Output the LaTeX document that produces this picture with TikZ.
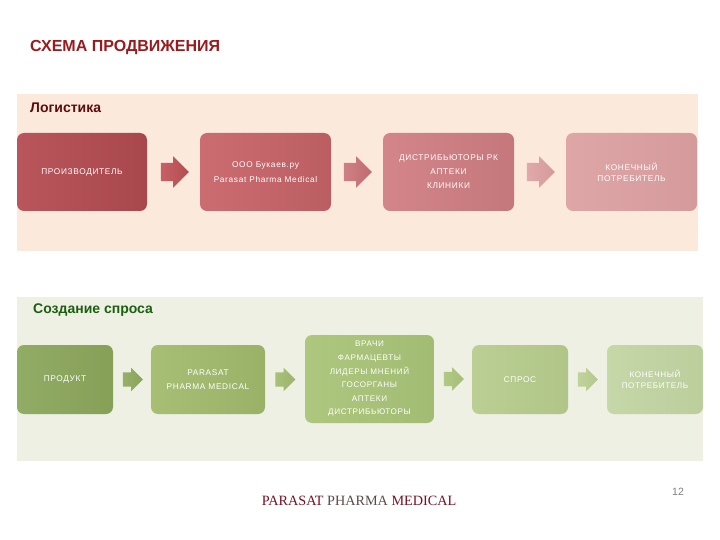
\documentclass[tikz,border=0pt]{standalone}
\usepackage{fontspec}
\setmainfont{Liberation Sans}
\newfontfamily\serifx{Liberation Serif}
\newfontfamily\boxfont[LetterSpace=8]{Liberation Sans}
\usetikzlibrary{shapes.arrows,calc}
\definecolor{titlered}{HTML}{9A1B1E}
\definecolor{logred}{HTML}{5E0B0B}
\definecolor{demgreen}{HTML}{1D5E12}
\definecolor{panelpink}{HTML}{FBE9DC}
\definecolor{panelgreen}{HTML}{EDF0E2}
\definecolor{footred}{HTML}{7A1020}
\definecolor{footgray}{HTML}{5A4A4A}
% logistics boxes
\definecolor{lAa}{HTML}{B8565B}\definecolor{lAb}{HTML}{A8474C}
\definecolor{lBa}{HTML}{CB6C70}\definecolor{lBb}{HTML}{BB5E62}
\definecolor{lCa}{HTML}{D38589}\definecolor{lCb}{HTML}{C5787B}
\definecolor{lDa}{HTML}{DFA6A8}\definecolor{lDb}{HTML}{D49A9C}
\definecolor{laAa}{HTML}{C86166}\definecolor{laAb}{HTML}{B34C51}
\definecolor{laBa}{HTML}{CF7F83}\definecolor{laBb}{HTML}{C06C70}
\definecolor{laCa}{HTML}{E0A9AB}\definecolor{laCb}{HTML}{D5999B}
% demand boxes
\definecolor{dAa}{HTML}{91AC65}\definecolor{dAb}{HTML}{86A058}
\definecolor{dBa}{HTML}{A6BF74}\definecolor{dBb}{HTML}{9AB268}
\definecolor{dCa}{HTML}{AEC77F}\definecolor{dCb}{HTML}{A3BC74}
\definecolor{dDa}{HTML}{BBCF94}\definecolor{dDb}{HTML}{B0C587}
\definecolor{dEa}{HTML}{C6D7A8}\definecolor{dEb}{HTML}{BCCE9C}
\definecolor{daAa}{HTML}{96B068}\definecolor{daAb}{HTML}{8AA45C}
\definecolor{daBa}{HTML}{A8C077}\definecolor{daBb}{HTML}{9CB46B}
\definecolor{daCa}{HTML}{B2C983}\definecolor{daCb}{HTML}{A6BE78}
\definecolor{daDa}{HTML}{C0D39B}\definecolor{daDb}{HTML}{B4C88E}
\tikzset{
  stagebox/.style={rounded corners=7pt, inner sep=2pt, align=center,
    text=white, font=\boxfont\fontsize{8.3}{14.5}\selectfont},
  blockarrow/.style={single arrow, draw=none, inner xsep=0pt, inner ysep=9pt,
    minimum height=28pt, minimum width=31pt, single arrow head extend=6.5pt,
    text height=0pt, text depth=0pt, text width=0pt, anchor=tail},
  panel/.style={draw=none, inner sep=0pt, anchor=north west},
  heading/.style={anchor=west, inner sep=0pt, font=\bfseries\fontsize{14}{16}\selectfont}
}
\begin{document}
\begin{tikzpicture}[x=1pt,y=-1pt]
\useasboundingbox (0,0) rectangle (720,540);
\fill[white] (0,0) rectangle (720,540);

\node[anchor=west, inner sep=0pt, text=titlered, font=\bfseries\fontsize{16}{18}\selectfont] (title) at (30,48) {СХЕМА ПРОДВИЖЕНИЯ};

% Logistics panel
\node[panel, fill=panelpink, minimum width=681pt, minimum height=157pt] (logpanel) at (17,94) {};
\node[heading, text=logred] (loghead) at (30,108) {Логистика};

\node[stagebox, minimum width=130pt, minimum height=78pt, left color=lAa, right color=lAb] (l1) at (82,172) {ПРОИЗВОДИТЕЛЬ};
\node[stagebox, minimum width=131pt, minimum height=78pt, left color=lBa, right color=lBb] (l2) at (265.5,172) {ООО Букаев.ру\\Parasat Pharma Medical};
\node[stagebox, minimum width=131pt, minimum height=78pt, left color=lCa, right color=lCb, font=\boxfont\fontsize{8.3}{14}\selectfont] (l3) at (448.5,172) {ДИСТРИБЬЮТОРЫ РК\\АПТЕКИ\\КЛИНИКИ};
\node[stagebox, minimum width=131pt, minimum height=78pt, left color=lDa, right color=lDb, font=\boxfont\fontsize{8.3}{11}\selectfont] (l4) at (631.5,172) {КОНЕЧНЫЙ\\ПОТРЕБИТЕЛЬ};

\node[blockarrow, left color=laAa, right color=laAb] (la1) at ($(l1.east)+(13.5,0)$) {};
\node[blockarrow, left color=laBa, right color=laBb] (la2) at ($(l2.east)+(12.5,0)$) {};
\node[blockarrow, left color=laCa, right color=laCb] (la3) at ($(l3.east)+(12.5,0)$) {};

% Demand panel
\node[panel, fill=panelgreen, minimum width=686pt, minimum height=164pt] (dempanel) at (17,297) {};
\node[heading, text=demgreen] (demhead) at (33,310) {Создание спроса};

\node[stagebox, minimum width=96pt, minimum height=69pt, left color=dAa, right color=dAb] (d1) at (65,379.5) {ПРОДУКТ};
\node[stagebox, minimum width=114pt, minimum height=69pt, left color=dBa, right color=dBb] (d2) at (208,379.5) {PARASAT\\PHARMA MEDICAL};
\node[stagebox, minimum width=129pt, minimum height=88pt, left color=dCa, right color=dCb, font=\boxfont\fontsize{8.1}{13.6}\selectfont] (d3) at (369.5,379) {ВРАЧИ\\ФАРМАЦЕВТЫ\\ЛИДЕРЫ МНЕНИЙ\\ГОСОРГАНЫ\\АПТЕКИ\\ДИСТРИБЬЮТОРЫ};
\node[stagebox, minimum width=96pt, minimum height=69pt, left color=dDa, right color=dDb] (d4) at (520,379.5) {СПРОС};
\node[stagebox, minimum width=96pt, minimum height=69pt, left color=dEa, right color=dEb, font=\boxfont\fontsize{8.1}{11}\selectfont] (d5) at (655,379.5) {КОНЕЧНЫЙ\\ПОТРЕБИТЕЛЬ};

\tikzset{greenarrow/.style={blockarrow, inner ysep=7pt, minimum height=20pt, minimum width=23pt, single arrow head extend=4.5pt}}
\node[greenarrow, left color=daAa, right color=daAb] (da1) at ($(d1.east)+(9.5,0)$) {};
\node[greenarrow, left color=daBa, right color=daBb] (da2) at ($(d2.east)+(10,0)$) {};
\node[greenarrow, left color=daCa, right color=daCb] (da3) at ($(d3.east)+(9.5,0)$) {};
\node[greenarrow, left color=daDa, right color=daDb] (da4) at ($(d4.east)+(9.5,0)$) {};

% Footer
\node[inner sep=0pt, font=\serifx\fontsize{14.2}{16}\selectfont] (footer) at (359,501)
  {\textcolor{footred}{PARASAT} \textcolor{footgray}{PHARMA} \textcolor{footred}{MEDICAL}};
\node[inner sep=0pt, text=gray, font=\fontsize{10.5}{12}\selectfont] (pagenum) at (678,492) {12};
\end{tikzpicture}
\end{document}
